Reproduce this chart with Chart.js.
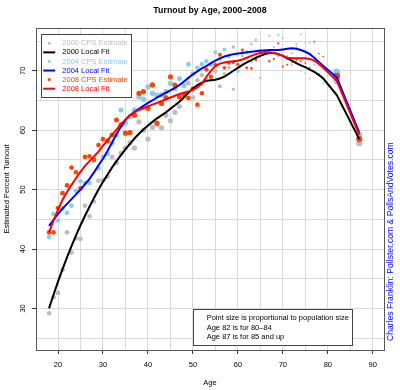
<!DOCTYPE html>
<html>
<head>
<meta charset="utf-8">
<script src="https://cdn.jsdelivr.net/npm/chart.js@4.4.1/dist/chart.umd.min.js"></script>
<style>
  html, body { margin: 0; padding: 0; background: #fff; }
  #wrap { width: 400px; height: 390px; }
</style>
</head>
<body>
<div id="wrap"><canvas id="turnoutChart" width="400" height="390"></canvas></div>
<script>
// ---- data ----
const ages = [18,19,20,21,22,23,24,25,26,27,28,29,30,31,32,33,34,35,36,37,38,39,40,41,42,43,44,45,46,47,
  48,49,50,51,52,53,54,55,56,57,58,59,60,61,62,63,64,65,66,67,68,69,70,71,72,73,74,75,76,77,78,79,82,87];

const cps2000 = [29.2,31.9,32.6,36.5,42.8,39.4,41.8,41.7,47.3,45.5,48.0,51.5,51.6,52.2,55.5,54.5,56.1,57.0,57.9,57.0,
  61.4,60.0,58.5,60.5,61.0,60.4,62.5,61.6,63.0,64.0,67.6,67.9,65.5,68.4,69.3,68.5,68.8,69.9,67.4,69.5,
  70.5,66.9,71.0,72.5,73.0,74.5,72.0,68.8,73.5,75.9,74.0,72.5,73.5,72.0,71.0,74.5,70.0,69.6,68.7,71.0,
  69.5,67.9,68.3,57.8];
const fit2000 = [30.0,32.3,34.5,36.6,38.6,40.5,42.3,44.0,45.6,47.1,48.6,50.0,51.3,52.5,53.7,54.8,55.8,56.8,57.7,58.6,
  59.4,60.1,60.8,61.4,62.0,62.5,63.0,63.6,64.2,64.8,65.5,66.3,67.0,67.6,68.0,68.3,68.4,68.5,68.7,69.0,
  69.5,70.0,70.5,71.0,71.4,71.8,72.2,72.5,72.8,73.0,73.0,72.8,72.5,72.1,71.7,71.3,70.9,70.6,70.2,69.8,
  69.3,68.7,65.9,58.5];

const cps2004 = [42.0,45.9,44.8,46.8,46.1,47.3,49.8,51.4,51.1,51.1,55.3,53.6,55.5,56.0,57.8,59.2,63.4,61.2,62.3,63.4,
  65.6,65.2,67.3,66.2,65.9,66.0,66.5,67.9,67.0,68.7,67.5,71.1,69.5,70.5,71.1,71.6,71.0,73.1,72.0,73.6,
  72.4,74.0,69.9,73.0,73.2,71.5,75.2,73.0,73.2,71.6,73.5,76.0,75.5,72.5,73.0,74.0,76.1,74.7,74.7,72.0,
  71.0,70.5,69.8,59.2];
const fit2004 = [43.9,44.9,45.9,46.8,47.6,48.4,49.2,50.0,50.9,51.8,52.9,54.1,55.2,56.5,57.9,59.3,60.6,61.7,62.5,63.1,
  63.6,64.1,64.6,65.0,65.5,65.9,66.3,66.7,67.1,67.6,68.2,68.8,69.4,69.9,70.4,70.8,71.3,71.7,72.1,72.4,
  72.6,72.8,72.9,73.0,73.1,73.2,73.3,73.4,73.4,73.5,73.5,73.5,73.6,73.7,73.8,73.7,73.5,73.2,72.8,72.2,
  71.5,70.8,68.9,59.6];

const cps2008 = [42.8,42.8,46.9,49.4,50.7,53.7,52.9,50.2,55.5,55.6,55.0,57.5,58.5,58.2,59.2,61.7,60.9,59.5,59.6,62.5,
  66.2,66.5,63.7,67.6,61.2,64.5,65.5,69.0,67.6,65.6,66.0,65.4,67.0,64.3,66.2,70.2,69.0,71.0,72.7,70.5,
  71.3,71.4,71.1,73.5,70.5,70.4,71.8,73.2,72.9,71.6,72.0,74.6,70.7,71.0,71.5,71.8,71.6,71.3,70.5,74.9,
  72.9,72.4,69.1,58.5];
const fit2008 = [42.8,44.8,46.6,48.3,49.6,50.8,51.9,53.0,54.0,54.8,55.6,56.4,57.4,58.3,59.2,60.1,61.0,61.8,62.5,63.0,
  63.4,63.7,64.0,64.3,64.6,64.9,65.2,65.5,65.8,66.1,66.3,66.5,66.8,67.2,67.8,69.0,70.0,70.8,71.2,71.4,
  71.5,71.6,71.7,71.9,72.2,72.5,72.8,73.0,73.1,73.1,73.0,72.8,72.5,72.2,72.1,72.1,72.1,72.1,72.0,71.7,
  71.2,70.5,68.3,59.2];

// relative population at each age (drives point size)
const popShare = [0.62,0.64,0.65,0.66,0.66,0.65,0.65,0.64,0.64,0.64,0.65,0.66,
  0.68,0.68,0.69,0.70,0.71,0.72,0.73,0.74,0.75,0.76,0.76,0.76,0.75,0.75,0.74,0.73,
  0.72,0.71,0.70,0.68,0.66,0.64,0.62,
  0.60,0.57,0.54,0.51,0.48,0.45,
  0.42,0.39,0.36,0.33,
  0.31,0.29,0.27,0.26,0.25,
  0.24,0.23,0.22,0.21,0.20,
  0.19,0.18,0.18,0.17,0.17,0.16,0.16,
  1.00,0.90];

const xGrid = [20,25,30,35,40,45,50,55,60,65,70,75,80,85,90];
const xLabelTicks = [20,30,40,50,60,70,80,90];
const yGrid = [25,30,35,40,45,50,55,60,65,70,75];
const yLabelTicks = [30,40,50,60,70];

const legendOrder = ['2000 CPS Estimate','2000 Local Fit','2004 CPS Estimate','2004 Local Fit','2008 CPS Estimate','2008 Local Fit'];
const noteLines = ['Point size is proportional to population size','Age 82 is for 80\u201384','Age 87 is for 85 and up'];
const creditText = 'Charles Franklin: Pollster.com & PollsAndVotes.com';

// ---- helpers ----
const FONT = '"Liberation Sans", Arial, Helvetica, sans-serif';
Chart.defaults.font.family = FONT;
Chart.defaults.color = '#000';

function pts(vals) { return ages.map((a, i) => ({ x: a, y: vals[i] })); }
const radii = popShare.map(p => 0.4 + p * 3.0);

function cpsSet(label, vals, color, order) {
    return { label, data: pts(vals), showLine: false, pointBackgroundColor: color, pointBorderWidth: 0,
             pointRadius: radii, pointHoverRadius: radii, order, _color: color };
}
function fitSet(label, vals, color, order) {
    return { label, data: pts(vals), showLine: true, borderColor: color, borderWidth: 2, pointRadius: 0,
             tension: 0, fill: false, order, _color: color, _line: true };
}

// white R-style legend + note box + credit text
const annotations = {
    id: 'annotations',
    afterDatasetsDraw(chart) {
        const { ctx, chartArea: a } = chart;
        ctx.save();
        ctx.strokeStyle = '#555';
        ctx.lineWidth = 1;
        ctx.strokeRect(Math.round(a.left) + 0.5, Math.round(a.top) + 0.5, Math.round(a.right - a.left), Math.round(a.bottom - a.top));
        ctx.restore();
    },
    afterDraw(chart) {
        const { ctx, chartArea: a } = chart;
        ctx.save();
        ctx.font = '7.5px ' + FONT;
        ctx.textBaseline = 'middle';

        // legend
        const lx = a.left + 4.7, ly = a.top + 6.3, lw = 90.3, lh = 63;
        ctx.fillStyle = '#fff';
        ctx.fillRect(lx, ly, lw, lh);
        ctx.strokeStyle = '#444';
        ctx.lineWidth = 1;
        ctx.strokeRect(Math.round(lx) + 0.5, Math.round(ly) + 0.5, Math.round(lw), Math.round(lh));
        legendOrder.forEach((lab, i) => {
            const ds = chart.data.datasets.find(d => d.label === lab);
            const y = ly + 9 + i * 9.08;
            if (ds._line) {
                ctx.strokeStyle = ds._color;
                ctx.lineWidth = 2;
                ctx.beginPath();
                ctx.moveTo(lx + 2.5, y);
                ctx.lineTo(lx + 14.5, y);
                ctx.stroke();
            } else {
                ctx.fillStyle = ds._color;
                ctx.beginPath();
                ctx.arc(lx + 8.5, y, 1.5, 0, Math.PI * 2);
                ctx.fill();
            }
            ctx.fillStyle = ds._color;
            ctx.textAlign = 'left';
            ctx.fillText(lab, lx + 21.6, y);
        });

        // note box
        const nx = a.left + 156.7, ny = a.bottom - 40.7, nw = 159, nh = 35.7;
        ctx.fillStyle = '#fff';
        ctx.fillRect(nx, ny, nw, nh);
        ctx.strokeStyle = '#444';
        ctx.lineWidth = 1;
        ctx.strokeRect(Math.round(nx) + 0.5, Math.round(ny) + 0.5, Math.round(nw), Math.round(nh));
        ctx.fillStyle = '#000';
        noteLines.forEach((t, i) => ctx.fillText(t, nx + 14, ny + 9 + i * 9.2));

        // credit on the right margin
        ctx.translate(390.7, 341);
        ctx.rotate(-Math.PI / 2);
        ctx.font = '8.6px ' + FONT;
        ctx.fillStyle = '#0000FF';
        ctx.textAlign = 'left';
        ctx.fillText(creditText, 0, 0);
        ctx.restore();
    }
};

new Chart(document.getElementById('turnoutChart'), {
    type: 'scatter',
    data: {
        datasets: [
            fitSet('2008 Local Fit', fit2008, '#FF0000', 0),
            fitSet('2004 Local Fit', fit2004, '#0000FF', 1),
            fitSet('2000 Local Fit', fit2000, '#000000', 2),
            cpsSet('2008 CPS Estimate', cps2008, '#FF4500', 3),
            cpsSet('2004 CPS Estimate', cps2004, '#87CEEB', 4),
            cpsSet('2000 CPS Estimate', cps2000, '#BEBEBE', 5)
        ]
    },
    options: {
        responsive: false,
        devicePixelRatio: 1,
        animation: false,
        events: [],
        layout: { padding: { left: 0, right: 16, top: 0, bottom: 0 } },
        plugins: {
            legend: { display: false },
            tooltip: { enabled: false },
            title: {
                display: true,
                text: 'Turnout by Age, 2000\u20132008',
                fullSize: false,
                color: '#000',
                font: { size: 8.8, weight: 'bold' },
                padding: { top: 5, bottom: 12.44 }
            }
        },
        scales: {
            x: {
                type: 'linear',
                min: 15.1,
                max: 92.5,
                afterBuildTicks: s => { s.ticks = xGrid.map(v => ({ value: v })); },
                afterFit: s => { s.height = 40; },
                ticks: {
                    autoSkip: false,
                    maxRotation: 0,
                    padding: 6.5,
                    font: { size: 7.5 },
                    callback: v => xLabelTicks.includes(v) ? String(v) : ''
                },
                grid: {
                    color: '#DADADA',
                    lineWidth: 1,
                    tickLength: 4,
                    tickColor: c => (c.tick && xLabelTicks.includes(c.tick.value)) ? '#333' : 'rgba(0,0,0,0)'
                },
                border: { display: false },
                title: { display: true, text: 'Age', font: { size: 7.5 }, padding: { top: 0, bottom: 2.8 } }
            },
            y: {
                type: 'linear',
                min: 23,
                max: 77.2,
                afterBuildTicks: s => { s.ticks = yGrid.map(v => ({ value: v })); },
                afterFit: s => { s.width = 36; },
                ticks: {
                    autoSkip: false,
                    minRotation: 90,
                    maxRotation: 90,
                    crossAlign: 'center',
                    padding: 4.8,
                    font: { size: 7.5 },
                    callback: v => yLabelTicks.includes(v) ? String(v) : ''
                },
                grid: {
                    color: '#DADADA',
                    lineWidth: 1,
                    tickLength: 4,
                    tickColor: c => (c.tick && yLabelTicks.includes(c.tick.value)) ? '#333' : 'rgba(0,0,0,0)'
                },
                border: { display: false },
                title: { display: true, text: 'Estimated Percent Turnout', font: { size: 7.5 }, padding: { top: 2.8, bottom: 0 } }
            }
        }
    },
    plugins: [annotations]
});
</script>
</body>
</html>
